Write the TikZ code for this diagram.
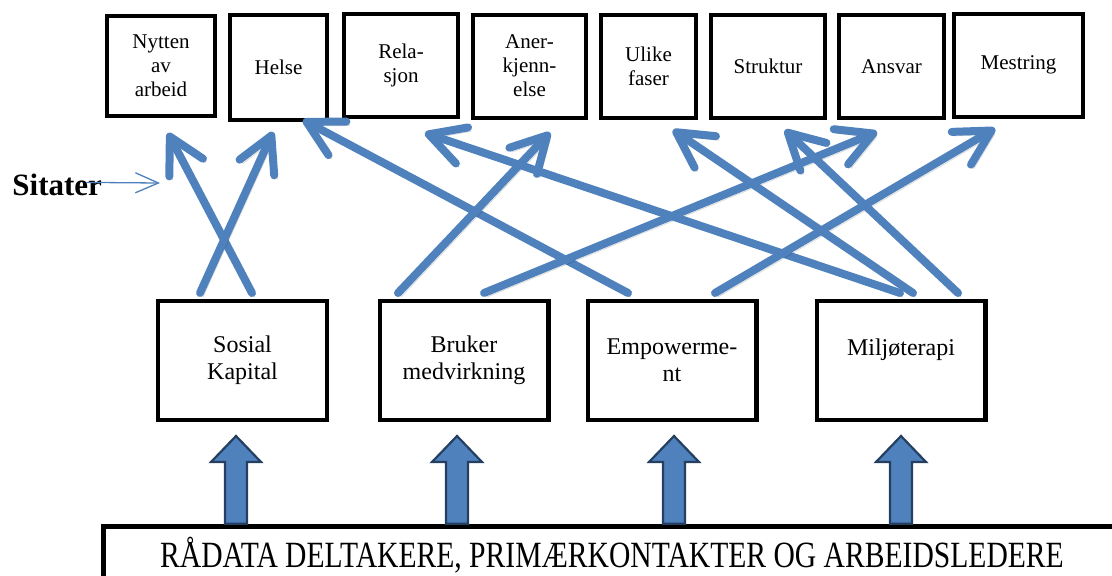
\documentclass[tikz,border=0pt]{standalone}
\usepackage{fontspec}
\setmainfont{Liberation Serif}
\newfontfamily\narrowfont[FakeStretch=0.8]{Liberation Serif}
\usepackage{tikz}
\usetikzlibrary{arrows.meta,calc}
\definecolor{cblue}{HTML}{4F81BD}
\definecolor{cdark}{HTML}{243F60}
\tikzset{
  themebox/.style={draw, line width=2pt, fill=white, align=center, inner sep=0pt,
    minimum height=51.5pt, font=\fontsize{10.5}{12}\selectfont},
  sourcebox/.style={draw, line width=2.2pt, fill=white, align=center, inner sep=0pt,
    minimum width=84.3pt, minimum height=59.3pt, font=\fontsize{12}{13.5}\selectfont},
  databox/.style={draw, line width=2.5pt, fill=white, inner sep=0pt,
    minimum width=508.75pt, minimum height=28.75pt, font=\narrowfont\fontsize{18.5}{20}\selectfont},
  linkarrow/.style={draw=cblue, line width=4pt, line cap=round,
    -{Straight Barb[length=17.5pt, width=19pt, round]},
    preaction={draw=black, draw opacity=.15, transform canvas={xshift=1.5pt, yshift=-2pt}}},
  dataarrow/.style={fill=cblue, draw=cdark, line width=1.1pt},
  notearrow/.style={draw=cblue, line width=.65pt, -{Straight Barb[length=11.5pt, width=10pt]}}
}
\begin{document}
\begin{tikzpicture}[x=0.5pt, y=-0.5pt]
  \useasboundingbox (0,0) rectangle (1112,575);
  \clip (0,0) rectangle (1112,575);

  \node[themebox, minimum width=54pt, minimum height=50pt] (nytten) at (161,66) {Nytten\\av\\arbeid};
  \node[themebox, minimum width=48.5pt, minimum height=52.5pt] (helse) at (278.5,67.5) {Helse};
  \node[themebox, minimum width=57pt] (rela) at (401,65.5) {Rela-\\sjon};
  \node[themebox, minimum width=56.5pt] (aner) at (529.5,66) {Aner-\\kjenn-\\else};
  \node[themebox, minimum width=47.5pt] (ulike) at (648.5,66.5) {Ulike\\faser};
  \node[themebox, minimum width=57pt] (struktur) at (768,66.5) {Struktur};
  \node[themebox, minimum width=52.5pt] (ansvar) at (891.5,66.5) {Ansvar};
  \node[themebox, minimum width=64.5pt] (mestring) at (1018.5,65) {Mestring};

  \node[sourcebox] (sosial) at (242.5,360.5) {Sosial\\Kapital};
  \node[sourcebox] (bruker) at (464,360.5) {Bruker\\medvirkning};
  \node[sourcebox] (empow) at (672,360.5) {Empowerme-\\nt};
  \node[sourcebox] (miljo) at (901,360.5) {Miljøterapi\\\mbox{}};

  \node[databox] (raadata) at (612,555) {RÅDATA DELTAKERE, PRIMÆRKONTAKTER OG ARBEIDSLEDERE};

  \node[font=\bfseries\fontsize{15.5}{17}\selectfont, anchor=base west, inner sep=0pt] (sitater) at (12,195) {Sitater};
  \coordinate (sitaterend) at (160,183);
  \draw[notearrow] ([xshift=-8pt, yshift=1pt]sitater.east) -- (sitaterend);

  \foreach \src/\dx in {sosial/-3.25pt, bruker/-3.5pt, empow/1pt, miljo/0pt}
    \draw[dataarrow] let \p1=([xshift=\dx]\src.south), \p2=(raadata.north) in
      (\x1-5.5pt,\y2) -- (\x1-5.5pt,\y1-20pt) -- (\x1-12.5pt,\y1-20pt) -- (\x1,\y1-7pt)
      -- (\x1+12.5pt,\y1-20pt) -- (\x1+5.5pt,\y1-20pt) -- (\x1+5.5pt,\y2) -- cycle;

  \draw[linkarrow] ([xshift=4.75pt, yshift=3pt]sosial.north) -- ([xshift=3.5pt, yshift=-7.5pt]nytten.south);
  \draw[linkarrow] ([xshift=-21.25pt, yshift=3pt]sosial.north) -- ([xshift=-2.75pt, yshift=-5pt]helse.south);
  \draw[linkarrow] ([xshift=-22pt, yshift=3pt]empow.north) -- ([xshift=12.25pt, yshift=1pt]helse.south);
  \draw[linkarrow] ([xshift=-33pt, yshift=3pt]bruker.north) -- ([xshift=10.25pt, yshift=-6.5pt]aner.south);
  \draw[linkarrow] ([xshift=10pt, yshift=3pt]bruker.north) -- ([xshift=-7.25pt, yshift=-6pt]ansvar.south);
  \draw[linkarrow] ([xshift=-0.5pt, yshift=3pt]miljo.north) -- ([xshift=12pt, yshift=-7pt]rela.south);
  \draw[linkarrow] ([xshift=21.5pt, yshift=3pt]empow.north) -- ([xshift=-11.75pt, yshift=-5pt]mestring.south);
  \draw[linkarrow] ([xshift=6pt, yshift=3pt]miljo.north) -- ([xshift=12.25pt, yshift=-5pt]ulike.south);
  \draw[linkarrow] ([xshift=28.5pt, yshift=3pt]miljo.north) -- ([xshift=8.5pt, yshift=-5pt]struktur.south);
\end{tikzpicture}
\end{document}
